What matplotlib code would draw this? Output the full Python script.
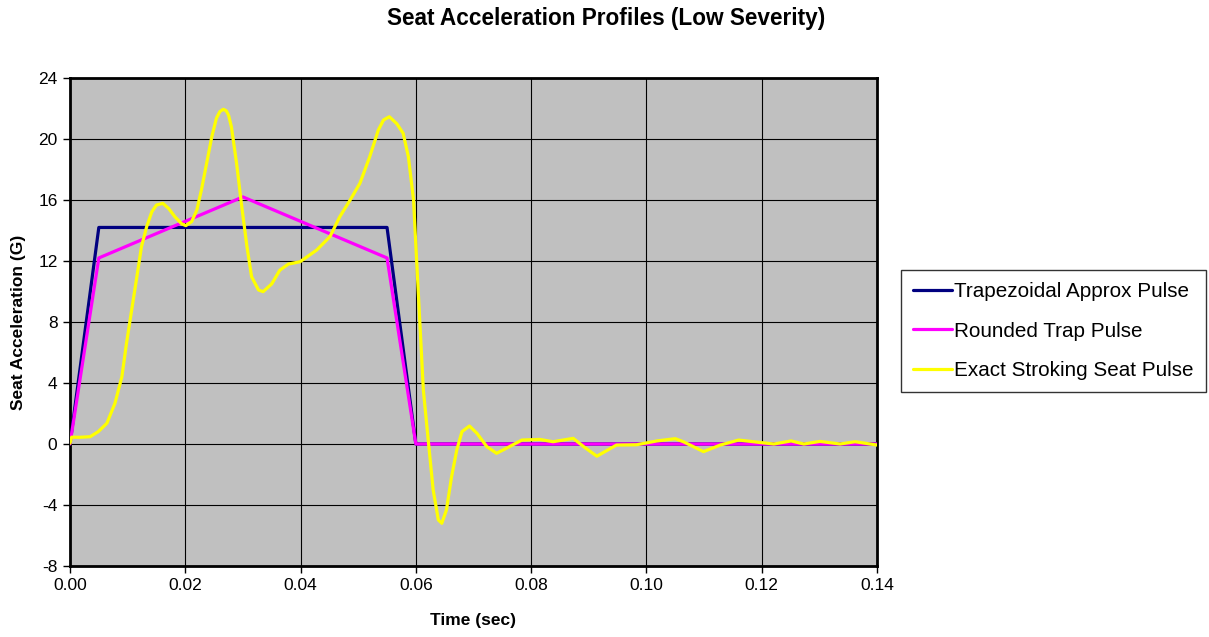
import matplotlib
matplotlib.use("Agg")
import matplotlib.pyplot as plt

plt.rcParams['font.family'] = ['Liberation Sans', 'DejaVu Sans']

# Data
trap_t = [0.0, 0.005, 0.055, 0.060, 0.140]
trap_g = [0.0, 14.2, 14.2, 0.0, 0.0]

round_t = [0.0, 0.005, 0.030, 0.055, 0.060, 0.140]
round_g = [0.0, 12.2, 16.2, 12.2, 0.0, 0.0]

exact_t = [0.0000, 0.0003, 0.0017, 0.0035, 0.0049, 0.0064, 0.0078, 0.0090,
           0.0098, 0.0107, 0.0116, 0.0124, 0.0133, 0.0142, 0.0150, 0.0161,
           0.0171, 0.0182, 0.0194, 0.0201, 0.0211, 0.0220, 0.0228, 0.0237,
           0.0246, 0.0254, 0.0260, 0.0266, 0.0271, 0.0275, 0.0280, 0.0289, 0.0298, 0.0307,
           0.0315, 0.0327, 0.0335, 0.0350, 0.0364, 0.0379, 0.0399, 0.0416,
           0.0428, 0.0451, 0.0468, 0.0486, 0.0503, 0.0520, 0.0535, 0.0544,
           0.0554, 0.0567, 0.0578, 0.0587, 0.0596, 0.0601, 0.0607, 0.0613,
           0.0622, 0.0630, 0.0639, 0.0645, 0.0653, 0.0662, 0.0671, 0.0680,
           0.0693, 0.0706, 0.0723, 0.0740, 0.0760, 0.0784, 0.0815, 0.0838,
           0.0873, 0.0891, 0.0914, 0.0948, 0.0983, 0.1018, 0.1050, 0.1064,
           0.1099, 0.1128, 0.1160, 0.1197, 0.1221, 0.1251, 0.1273, 0.1301,
           0.1336, 0.1362, 0.1400]
exact_g = [0.05, 0.45, 0.44, 0.48, 0.81, 1.36, 2.67, 4.41,
           6.6, 8.79, 10.97, 12.94, 14.25, 15.23, 15.67, 15.78,
           15.45, 14.9, 14.43, 14.32, 14.58, 15.34, 16.66, 18.4,
           20.15, 21.36, 21.8, 21.95, 21.85, 21.57, 20.8, 18.4, 15.56, 12.94,
           10.97, 10.1, 9.99, 10.5, 11.4, 11.8, 11.95, 12.4,
           12.72, 13.6, 14.9, 16.0, 17.1, 18.84, 20.6, 21.25,
           21.46, 21.0, 20.37, 18.84, 16.0, 12.28, 7.91, 3.54,
           0.05, -3.0, -4.98, -5.2, -4.33, -2.14, -0.39, 0.81,
           1.18, 0.7, -0.17, -0.61, -0.22, 0.26, 0.3, 0.15,
           0.37, -0.17, -0.8, -0.07, -0.05, 0.2, 0.35, 0.15,
           -0.5, -0.07, 0.26, 0.1, 0.0, 0.2, 0.0, 0.17,
           0.0, 0.15, -0.07]

x_ticks = [0.00, 0.02, 0.04, 0.06, 0.08, 0.10, 0.12, 0.14]
y_ticks = [-8, -4, 0, 4, 8, 12, 16, 20, 24]

fig = plt.figure(figsize=(12.09, 6.37), dpi=100)
ax = fig.add_axes([70/1209, 1-566/637, (877-70)/1209, (566-78)/637])
ax.set_facecolor('#C0C0C0')

kw = dict(lw=2.3, solid_joinstyle='round', solid_capstyle='round')
ax.plot(trap_t, trap_g, color='#000080', label='Trapezoidal Approx Pulse', zorder=3, **kw)
ax.plot(round_t, round_g, color='#FF00FF', label='Rounded Trap Pulse', zorder=4, **kw)
ax.plot(exact_t, exact_g, color='#FFFF00', label='Exact Stroking Seat Pulse', zorder=5, **kw)

ax.set_xlim(0, 0.14)
ax.set_ylim(-8, 24)
ax.set_xticks(x_ticks)
ax.set_xticklabels([f"{v:.2f}" for v in x_ticks])
ax.set_yticks(y_ticks)
ax.set_yticklabels([str(v) for v in y_ticks])
ax.grid(True, color='black', lw=0.8)
ax.set_axisbelow(True)
for s in ax.spines.values():
    s.set_linewidth(2.0)
    s.set_color('black')
ax.tick_params(direction='out', length=5, width=1, labelsize=12.5, colors='black', pad=4)

ax.set_xlabel('Time (sec)', fontsize=12.5, fontweight='bold')
ax.xaxis.set_label_coords((473-70)/807, -(621-566)/488)
ax.set_ylabel('Seat Acceleration (G)', fontsize=12.5, fontweight='bold')
ax.yaxis.set_label_coords(-(70-19)/807, (566-322)/488)
ax.xaxis.label.set_va('center')
ax.yaxis.label.set_va('center')
fig.text(606/1209, 1-19/637, 'Seat Acceleration Profiles (Low Severity)',
         ha='center', va='center', fontsize=16.3, fontweight='bold')

leg = ax.legend(loc='upper left', bbox_to_anchor=(901/1209, 1-270/637),
                bbox_transform=fig.transFigure, frameon=True, fancybox=False,
                edgecolor='black', fontsize=14.9, handlelength=1.85, handletextpad=0.1,
                borderpad=0.6, labelspacing=0.98, borderaxespad=0)
leg.get_frame().set_linewidth(1.0)

fig.savefig('out.png', dpi=100, facecolor='white')
